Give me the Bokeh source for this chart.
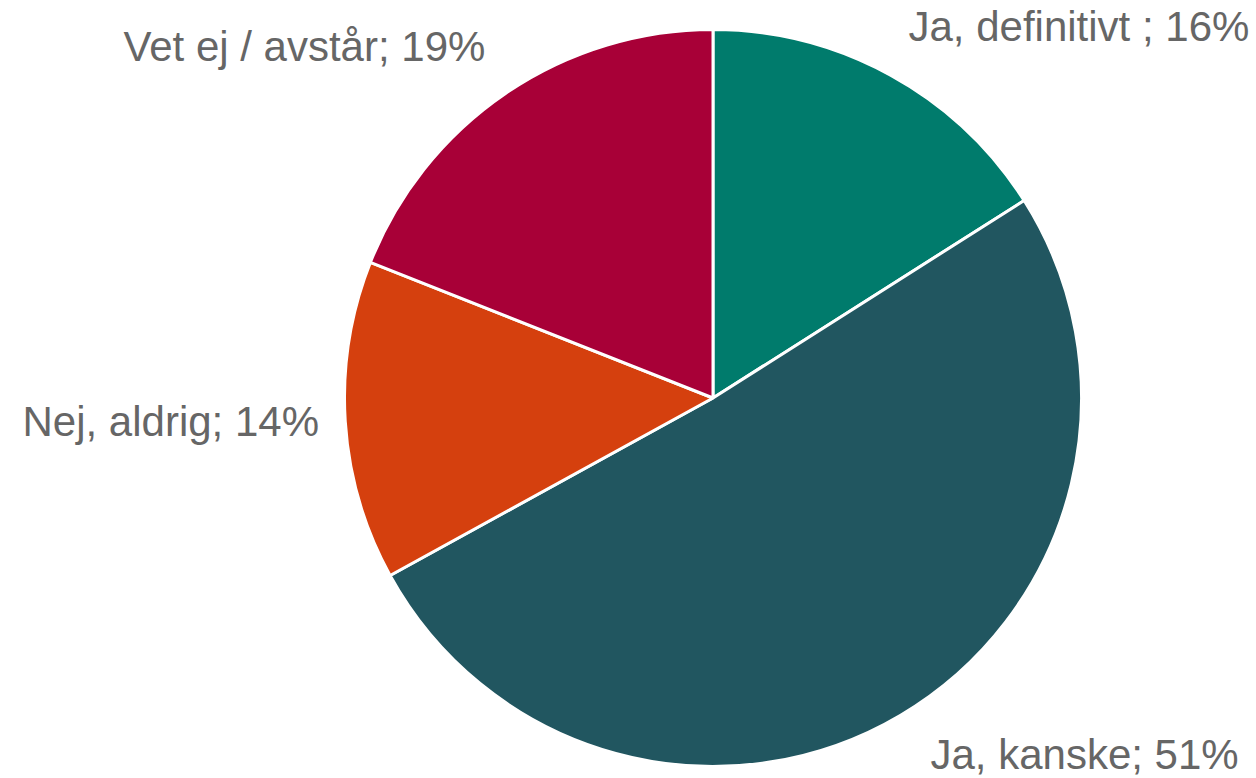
import math
from bokeh.plotting import figure
from bokeh.models import Range1d, ColumnDataSource
from bokeh.core.properties import value
from bokeh.embed import file_html
from bokeh.resources import INLINE

# --- data ---
categories = ["Ja, definitivt ", "Ja, kanske", "Nej, aldrig", "Vet ej / avstår"]
shares = [16, 51, 14, 19]
colors = ["#007B6C", "#215660", "#D5400E", "#A80037"]

# --- layout (figure pixel units, y up) ---
W, H = 1256, 778
cx, cy, r = 712.5, 380.5, 368.5
label_x = [908, 930, 22, 123]
label_y = [752, 24, 357, 732]

total = sum(shares)
starts, ends = [], []
acc = 0.0
for s in shares:
    a0 = math.pi / 2 - 2 * math.pi * acc / total
    acc += s
    a1 = math.pi / 2 - 2 * math.pi * acc / total
    starts.append(a0)
    ends.append(a1)

src = ColumnDataSource(dict(
    cat=categories, share=shares, color=colors,
    start=starts, end=ends,
    x=[cx] * len(shares), y=[cy] * len(shares),
))

labels = [f"{c}; {s}%" for c, s in zip(categories, shares)]
lsrc = ColumnDataSource(dict(x=label_x, y=label_y, text=labels))

p = figure(width=W, height=H, output_backend="svg", toolbar_location=None,
           x_range=Range1d(0, W), y_range=Range1d(0, H),
           min_border=0, min_border_left=0, min_border_right=0,
           min_border_top=0, min_border_bottom=0)
p.axis.visible = False
p.grid.visible = False
p.outline_line_color = None
p.background_fill_color = "white"
p.border_fill_color = "white"

p.wedge(x="x", y="y", radius=r, start_angle="start", end_angle="end",
        direction="clock", fill_color="color", line_color="white",
        line_width=3, source=src)

p.text(x="x", y="y", text="text", source=lsrc,
       text_font=value("Liberation Sans"), text_font_size="42px",
       text_color="#666666", text_baseline="alphabetic", text_align="left")

open("out.html", "w").write(file_html(p, INLINE))
